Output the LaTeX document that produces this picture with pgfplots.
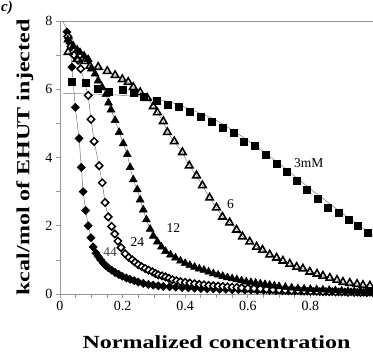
\documentclass[border=0pt]{standalone}
\usepackage{pgfplots}
\pgfplotsset{compat=1.18}
\usepackage{fontspec}
\setmainfont{Liberation Serif}
\definecolor{axgray}{RGB}{150,150,150}
\definecolor{fitgray}{RGB}{120,120,120}
\begin{document}
\begin{tikzpicture}
\begin{axis}[
  scale only axis, width=313pt, height=273pt,
  xmin=0, xmax=1, ymin=0, ymax=8,
  axis lines*=left, axis line style={axgray, line width=0.8pt},
  xtick={0,0.2,0.4,0.6,0.8}, ytick={0,2,4,6,8},
  xticklabels={0,0.2,0.4,0.6,0.8},
  minor x tick num=3, minor y tick num=1,
  tick align=outside, major tick length=4pt, minor tick length=4pt,
  tick style={axgray, line width=0.7pt},
  /pgf/number format/assume math mode=true,
  ticklabel style={font=\fontsize{14}{16}\selectfont, text=black},
  xlabel={\scalebox{1.3}[1]{\bfseries\fontsize{18.5}{20}\selectfont Normalized concentration}},
  xlabel style={at={(axis description cs:0.5,0)}, anchor=base, yshift=-55pt},
  ylabel={\scalebox{1.3}[1]{\bfseries\fontsize{18.5}{20}\selectfont kcal/mol of EHUT injected}},
  ylabel style={at={(axis description cs:-0.112,0.5)}, anchor=center},
  clip=false,
]
\draw[axgray, line width=0.8pt] (axis cs:0,8) -- (axis cs:1,8);
% fit line 3mM
\addplot[fitgray, line width=0.5pt, smooth] coordinates {
(0.01,5.88)(0.1,5.86)(0.2,5.82)(0.3,5.72)(0.36,5.6)(0.42,5.4)(0.5,5.08)(0.6,4.5)(0.7,3.82)(0.8,3.08)(0.9,2.38)(1.0,1.72)};
% fit start of 12
\addplot[fitgray, line width=0.5pt] coordinates {(0.01,7.97)(0.04,7.45)(0.07,7.05)};
% 44 filled diamonds
\addplot[fitgray, line width=0.5pt, mark=square*, mark size=2.9pt, mark options={black, fill=black, solid, rotate=45}] coordinates {
(0.022,7.68)(0.027,7.5)(0.032,7.35)(0.038,6.65)(0.049,5.47)(0.061,4.56)(0.068,3.71)(0.074,3.0)(0.082,2.45)(0.09,2.0)(0.099,1.65)(0.106,1.38)(0.115,1.2)(0.122,1.1)(0.13,1.0)(0.138,0.91)(0.146,0.83)(0.154,0.77)(0.165,0.7)(0.176,0.63)(0.188,0.57)(0.199,0.52)(0.212,0.47)(0.224,0.43)(0.237,0.39)(0.25,0.35)(0.266,0.31)(0.282,0.28)(0.298,0.26)(0.314,0.24)(0.33,0.22)(0.35,0.21)(0.37,0.2)(0.39,0.19)(0.41,0.18)(0.43,0.17)(0.45,0.16)(0.47,0.15)(0.49,0.15)(0.51,0.14)(0.53,0.14)(0.55,0.13)(0.57,0.13)(0.59,0.12)(0.61,0.12)(0.63,0.11)(0.65,0.11)(0.67,0.1)(0.69,0.1)(0.71,0.09)(0.73,0.09)(0.75,0.09)(0.77,0.08)(0.79,0.08)(0.81,0.08)(0.83,0.07)(0.85,0.07)(0.87,0.07)(0.89,0.06)(0.91,0.06)(0.93,0.06)(0.95,0.05)(0.97,0.05)(0.99,0.05)};
% 24 open diamonds
\addplot[fitgray, line width=0.5pt, mark=square*, mark size=2.6pt, mark options={black, line width=1.5pt, fill=white, solid, rotate=45}] coordinates {
(0.025,7.55)(0.035,7.25)(0.045,7.0)(0.058,6.85)(0.066,6.6)(0.09,5.82)(0.099,5.12)(0.109,4.47)(0.125,3.76)(0.135,3.26)(0.144,2.68)(0.154,2.26)(0.165,1.98)(0.175,1.76)(0.185,1.55)(0.195,1.36)(0.208,1.18)(0.22,1.07)(0.231,1.0)(0.24,0.93)(0.25,0.86)(0.261,0.8)(0.272,0.75)(0.283,0.7)(0.295,0.65)(0.305,0.6)(0.314,0.56)(0.326,0.53)(0.337,0.5)(0.348,0.46)(0.359,0.42)(0.372,0.39)(0.385,0.36)(0.4,0.34)(0.415,0.32)(0.43,0.3)(0.445,0.28)(0.46,0.27)(0.475,0.25)(0.49,0.24)(0.505,0.23)(0.52,0.22)(0.535,0.21)(0.55,0.2)(0.565,0.19)(0.58,0.18)(0.6,0.17)(0.62,0.16)(0.64,0.15)(0.66,0.14)(0.68,0.13)(0.7,0.12)(0.72,0.11)(0.74,0.1)(0.76,0.1)(0.78,0.09)(0.8,0.08)(0.82,0.08)(0.84,0.07)(0.86,0.07)(0.88,0.06)(0.9,0.06)(0.92,0.05)(0.94,0.05)(0.96,0.05)(0.98,0.04)(1.0,0.04)};
% 12 filled triangles
\addplot[fitgray, line width=0.5pt, mark=triangle*, mark size=4.6pt, mark options={black, fill=black, solid}] coordinates {
(0.025,7.45)(0.042,7.26)(0.055,7.15)(0.064,7.08)(0.077,6.98)(0.09,6.88)(0.1,6.6)(0.112,6.45)(0.122,6.25)(0.135,6.05)(0.147,5.85)(0.155,5.6)(0.163,5.4)(0.176,5.09)(0.189,4.74)(0.202,4.41)(0.215,4.09)(0.224,3.71)(0.234,3.35)(0.247,3.06)(0.256,2.76)(0.266,2.47)(0.276,2.18)(0.288,1.9)(0.298,1.7)(0.311,1.53)(0.324,1.38)(0.337,1.25)(0.353,1.15)(0.369,1.06)(0.385,0.97)(0.4,0.9)(0.415,0.84)(0.43,0.79)(0.445,0.74)(0.46,0.7)(0.475,0.65)(0.49,0.6)(0.505,0.56)(0.52,0.52)(0.535,0.48)(0.55,0.45)(0.565,0.42)(0.58,0.39)(0.595,0.36)(0.61,0.34)(0.625,0.32)(0.64,0.3)(0.655,0.28)(0.67,0.26)(0.685,0.24)(0.7,0.22)(0.72,0.2)(0.74,0.18)(0.76,0.16)(0.78,0.15)(0.8,0.14)(0.82,0.13)(0.84,0.12)(0.86,0.11)(0.88,0.1)(0.9,0.09)(0.92,0.08)(0.94,0.07)(0.96,0.07)(0.98,0.06)(1.0,0.05)};
% 6 open triangles
\addplot[fitgray, line width=0.5pt, mark=triangle, mark size=4.3pt, mark options={black, line width=1.6pt, fill=white, solid}] coordinates {
(0.026,7.09)(0.054,6.88)(0.08,6.82)(0.096,6.68)(0.122,6.65)(0.151,6.53)(0.176,6.41)(0.199,6.29)(0.218,6.21)(0.234,6.06)(0.256,5.91)(0.279,5.74)(0.298,5.5)(0.311,5.32)(0.33,5.06)(0.343,4.74)(0.365,4.47)(0.391,4.15)(0.413,3.76)(0.436,3.47)(0.455,3.18)(0.478,2.82)(0.5,2.53)(0.519,2.26)(0.542,2.09)(0.564,1.88)(0.583,1.68)(0.606,1.53)(0.628,1.38)(0.647,1.29)(0.67,1.15)(0.692,1.06)(0.712,0.97)(0.734,0.88)(0.756,0.79)(0.776,0.74)(0.798,0.65)(0.821,0.59)(0.84,0.53)(0.862,0.47)(0.885,0.41)(0.904,0.35)(0.926,0.32)(0.949,0.29)(0.968,0.26)(0.99,0.24)};
% 3mM filled squares
\addplot[only marks, mark=square*, mark size=3.5pt, mark options={black, fill=black}] coordinates {
(0.038,6.21)(0.083,6.2)(0.122,6.03)(0.154,5.94)(0.199,6.0)(0.234,5.91)(0.266,5.79)(0.308,5.65)(0.343,5.56)(0.378,5.5)(0.413,5.35)(0.449,5.21)(0.484,5.06)(0.519,4.88)(0.554,4.74)(0.587,4.47)(0.622,4.35)(0.657,4.09)(0.692,3.82)(0.724,3.59)(0.756,3.32)(0.788,3.06)(0.824,2.79)(0.856,2.53)(0.891,2.38)(0.923,2.18)(0.952,2.0)(0.984,1.79)};
\node[font=\fontsize{13.5}{15}\selectfont] at (axis cs:0.795,3.85) {3mM};
\node[font=\fontsize{13.5}{15}\selectfont] at (axis cs:0.545,2.62) {6};
\node[font=\fontsize{13.5}{15}\selectfont] at (axis cs:0.362,1.94) {12};
\node[font=\fontsize{13.5}{15}\selectfont] at (axis cs:0.247,1.53) {24};
\node[font=\fontsize{13.5}{15}\selectfont, text=black!75] at (axis cs:0.16,1.24) {44};
\end{axis}
\node[anchor=north west, inner sep=0pt, font=\bfseries\itshape\fontsize{15}{15}\selectfont] at (-59pt,293pt) {c)};
\pgfresetboundingbox
\path (-60pt,-59pt) rectangle (313pt,294pt);
\end{tikzpicture}
\end{document}
